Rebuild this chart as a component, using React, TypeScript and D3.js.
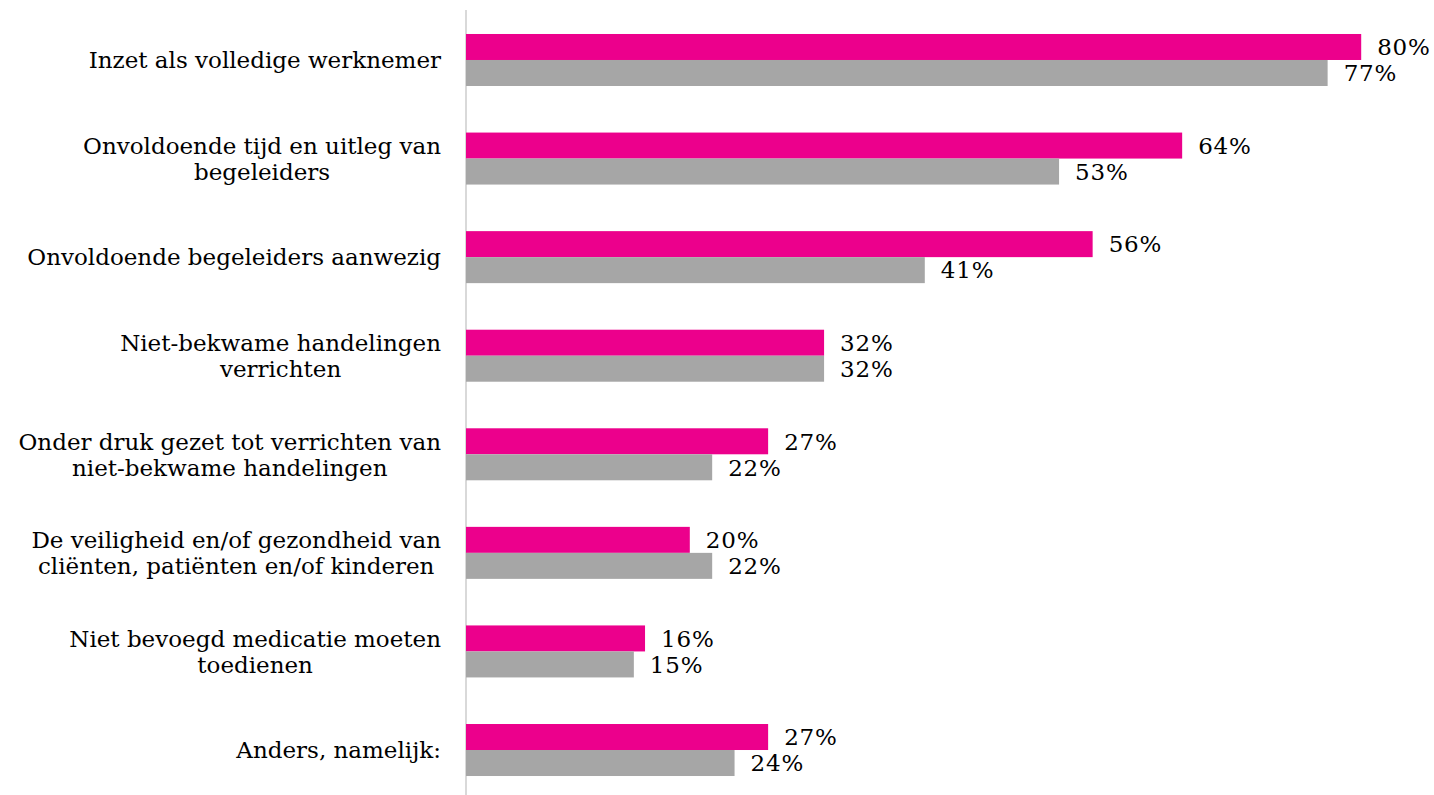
import React, { useEffect, useRef } from 'react';
import * as d3 from 'd3';

const categories = [
  ['Inzet als volledige werknemer'],
  ['Onvoldoende tijd en uitleg van', 'begeleiders'],
  ['Onvoldoende begeleiders aanwezig'],
  ['Niet-bekwame handelingen', 'verrichten'],
  ['Onder druk gezet tot verrichten van', 'niet-bekwame handelingen'],
  ['De veiligheid en/of gezondheid van', 'cliënten, patiënten en/of kinderen'],
  ['Niet bevoegd medicatie moeten', 'toedienen'],
  ['Anders, namelijk:'],
];
const pinkValues = [80, 64, 56, 32, 27, 20, 16, 27];
const grayValues = [77, 53, 41, 32, 22, 22, 15, 24];

const W = 1434;
const H = 795;
const FONT = '"DejaVu Serif", serif';

function drawChart(svgRef: React.RefObject<SVGSVGElement>) {
  const svg = d3.select(svgRef.current);
  svg.selectAll('*').remove();

  const axisX = 466;
  const x = d3.scaleLinear().domain([0, 100]).range([axisX, axisX + 1119]);
  const y = d3
    .scaleBand<number>()
    .domain(d3.range(categories.length))
    .range([10.7, 799.3])
    .padding(0);
  const barH = 26;

  svg
    .append('line')
    .attr('x1', axisX)
    .attr('x2', axisX)
    .attr('y1', 10)
    .attr('y2', H)
    .attr('stroke', '#d9d9d9')
    .attr('stroke-width', 2);

  const series = [
    { values: pinkValues, color: '#EC008C', off: -barH },
    { values: grayValues, color: '#A6A6A6', off: 0 },
  ];

  series.forEach((s) => {
    const g = svg.append('g');
    g.selectAll('rect')
      .data(s.values)
      .join('rect')
      .attr('x', x(0))
      .attr('y', (_, i) => y(i)! + y.bandwidth() / 2 + s.off)
      .attr('width', (d) => x(d) - x(0))
      .attr('height', barH)
      .attr('fill', s.color);
    g.selectAll('text')
      .data(s.values)
      .join('text')
      .attr('x', (d) => x(d) + 16)
      .attr('y', (_, i) => y(i)! + y.bandwidth() / 2 + s.off + barH / 2)
      .attr('dy', '0.36em')
      .attr('font-family', FONT)
      .attr('font-size', 23)
      .attr('letter-spacing', 0.8)
      .attr('fill', '#000')
      .text((d) => d + '%');
  });

  const labelRight = 441;
  const lineH = 26;
  categories.forEach((lines, i) => {
    const cy = y(i)! + y.bandwidth() / 2;
    const t = svg
      .append('text')
      .attr('font-family', FONT)
      .attr('font-size', 23)
      .attr('fill', '#000');
    const spans = lines.map((ln, j) =>
      t
        .append('tspan')
        .attr('y', cy + (j - (lines.length - 1) / 2) * lineH)
        .attr('dy', '0.36em')
        .attr('text-anchor', 'middle')
        .text(ln)
    );
    const maxW = d3.max(spans, (sp) => (sp.node() as SVGTSpanElement).getComputedTextLength()) || 0;
    spans.forEach((sp) => sp.attr('x', labelRight - maxW / 2));
  });
}

export default function App() {
  const svgRef = useRef<SVGSVGElement>(null);
  useEffect(() => {
    drawChart(svgRef);
  }, []);
  return (
    <div style={{ position: 'absolute', left: 0, top: 0, background: '#fff' }}>
      <svg ref={svgRef} width={W} height={H} />
    </div>
  );
}
